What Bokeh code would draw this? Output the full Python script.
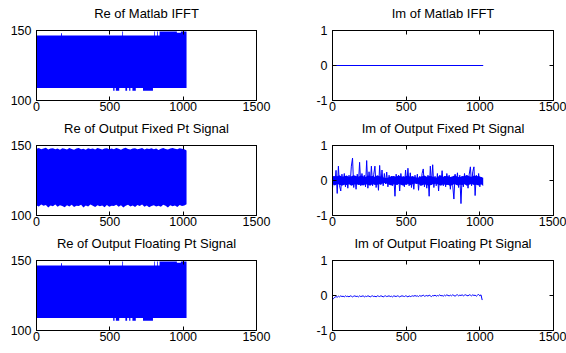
import numpy as np
from bokeh.plotting import figure
from bokeh.layouts import column, row
from bokeh.models import LinearAxis, FixedTicker, Range1d
from bokeh.embed import file_html
from bokeh.resources import INLINE

FONT = "Liberation Sans"
BLUE = "#0000ff"

# ---------------- data ----------------
titles = ["Re of Matlab IFFT", "Im of Matlab IFFT",
          "Re of Output Fixed Pt Signal", "Im of Output Fixed Pt Signal",
          "Re of Output Floating Pt Signal", "Im of Output Floating Pt Signal"]
x_ticks = [0, 500, 1000, 1500]
re_ticks = [100, 150]
im_ticks = [-1, 0, 1]
im_tick_labels = {-1: "-1", 0: "0", 1: "1"}

# Re of Matlab IFFT: envelope of the dense signal (sample index breakpoints, step-after)
re_ifft_idx = [0, 168, 174, 523, 532, 541, 564, 585, 590, 606, 618, 632, 640,
               654, 677, 726, 794, 801, 806, 822, 827, 839, 957, 984, 1023]
re_ifft_hi = [146.5, 148.0, 146.5, 146.5, 146.5, 146.5, 146.5, 149.3, 146.5, 146.5, 146.5, 146.5, 146.5,
              146.5, 146.5, 146.5, 146.5, 149.3, 146.5, 149.3, 146.5, 149.3, 148.4, 149.3, 149.3]
re_ifft_lo = [109.0, 109.0, 109.0, 107.0, 109.0, 107.0, 109.0, 109.0, 109.0, 107.0, 109.0, 107.0, 109.0,
              107.0, 109.0, 107.0, 109.0, 109.0, 109.0, 109.0, 109.0, 109.0, 109.0, 109.0, 109.0]

# Im of Matlab IFFT: flat zero
im_ifft_idx = [0, 1023]
im_ifft = [0.0, 0.0]

# Re of fixed point output: envelope every 16 samples
re_fixed_hi = [147.6, 148.2, 147.3, 147.9, 148.4, 147.1, 147.8, 148.0, 147.4, 147.9,
               146.9, 148.1, 147.6, 147.2, 148.3, 147.5, 147.0, 147.8, 148.2, 147.4,
               147.7, 146.9, 148.0, 147.5, 147.9, 147.2, 148.3, 147.6, 147.1, 147.8,
               148.1, 147.4, 147.9, 147.3, 148.2, 147.6, 147.0, 147.8, 148.4, 147.5,
               147.2, 147.9, 148.0, 147.3, 147.7, 148.2, 147.1, 147.8, 147.5, 148.1,
               147.4, 147.9, 146.8, 147.7, 148.3, 147.5, 147.2, 147.9, 148.2, 147.6,
               147.3, 148.0, 147.7, 147.4, 146.5]
re_fixed_lo = [107.2, 106.4, 107.8, 106.9, 107.5, 105.8, 107.1, 106.6, 107.9, 106.2,
               107.4, 106.8, 105.9, 107.3, 106.5, 107.7, 106.1, 107.0, 106.7, 107.6,
               105.7, 107.2, 106.4, 107.8, 106.9, 106.0, 107.4, 106.6, 107.1, 105.9,
               107.5, 106.3, 107.0, 106.8, 107.7, 106.2, 107.3, 105.8, 106.9, 107.6,
               106.4, 107.1, 106.0, 107.5, 106.7, 107.9, 106.3, 107.2, 105.9, 106.8,
               107.4, 106.5, 107.0, 106.2, 107.6, 106.9, 105.8, 107.3, 106.6, 107.1,
               106.0, 107.5, 106.8, 107.2, 108.0]

# Im of fixed point output: dense core envelope every 16 samples ...
im_fixed_core_hi = [0.10, 0.13, 0.12, 0.15, 0.11, 0.12, 0.14, 0.10, 0.12, 0.15,
                    0.13, 0.11, 0.14, 0.12, 0.10, 0.14, 0.12, 0.13, 0.11, 0.15,
                    0.12, 0.10, 0.08, 0.07, 0.09, 0.12, 0.13, 0.11, 0.14, 0.12,
                    0.10, 0.12, 0.14, 0.11, 0.13, 0.09, 0.08, 0.10, 0.12, 0.14,
                    0.11, 0.13, 0.12, 0.10, 0.08, 0.12, 0.14, 0.11, 0.13, 0.12,
                    0.10, 0.12, 0.15, 0.11, 0.09, 0.12, 0.13, 0.15, 0.12, 0.11,
                    0.14, 0.12, 0.13, 0.10, 0.08]
im_fixed_core_lo = [-0.11, -0.14, -0.10, -0.12, -0.15, -0.12, -0.13, -0.11, -0.15, -0.12,
                    -0.10, -0.13, -0.12, -0.14, -0.11, -0.12, -0.15, -0.10, -0.13, -0.12,
                    -0.11, -0.09, -0.07, -0.09, -0.12, -0.14, -0.11, -0.13, -0.10, -0.12,
                    -0.15, -0.12, -0.09, -0.13, -0.11, -0.08, -0.09, -0.12, -0.14, -0.11,
                    -0.13, -0.15, -0.12, -0.10, -0.09, -0.12, -0.15, -0.11, -0.13, -0.12,
                    -0.16, -0.12, -0.10, -0.14, -0.12, -0.13, -0.11, -0.15, -0.12, -0.10,
                    -0.13, -0.12, -0.14, -0.11, -0.16]
# ... and the signal itself, one value every 8 samples (carries the spikes)
im_fixed = [-0.22, 0.12, -0.10, 0.29, -0.37, 0.41, -0.15, -0.30, 0.18, -0.12,
            0.20, -0.18, 0.10, -0.22, 0.15, -0.08, 0.41, 0.64, -0.20, 0.12,
            -0.25, 0.18, -0.10, 0.52, -0.15, 0.20, -0.12, 0.15, -0.18, 0.57,
            -0.22, 0.25, -0.10, 0.41, -0.15, 0.18, 0.41, -0.20, 0.12, -0.28,
            0.43, -0.12, 0.30, -0.15, 0.20, -0.10, 0.24, -0.18, 0.15, -0.08,
            0.12, -0.15, 0.10, -0.45, 0.18, -0.12, 0.15, -0.30, 0.20, -0.10,
            0.12, -0.18, 0.30, -0.12, 0.35, -0.15, 0.22, -0.20, 0.10, -0.25,
            0.15, -0.10, 0.18, -0.28, 0.12, -0.15, 0.20, 0.33, -0.18, 0.10,
            -0.22, 0.15, -0.45, 0.41, -0.12, 0.45, -0.20, 0.12, -0.15, 0.20,
            -0.30, 0.15, -0.10, 0.28, -0.15, 0.12, -0.18, 0.20, -0.12, 0.15,
            -0.25, 0.10, -0.15, -0.53, 0.18, -0.12, 0.22, -0.20, 0.15, -0.66,
            0.12, -0.18, 0.20, -0.10, 0.15, -0.22, 0.18, 0.39, -0.15, 0.25,
            0.39, -0.43, 0.15, -0.12, 0.20, -0.18, 0.10, -0.05]

# Re of floating point output: reads the same as the Matlab IFFT
re_float_idx = list(re_ifft_idx)
re_float_hi = list(re_ifft_hi)
re_float_lo = list(re_ifft_lo)

# Im of floating point output: one value every 8 samples
im_float = [-0.12, -0.08, -0.05, -0.03, -0.05, -0.02, -0.04, -0.01, -0.03, -0.02,
            -0.04, -0.01, -0.03, -0.02, -0.04, -0.01, -0.02, -0.04, -0.02, -0.01,
            -0.03, -0.02, -0.04, -0.01, -0.03, -0.02, -0.01, -0.04, -0.02, -0.03,
            -0.01, -0.02, -0.04, -0.02, -0.01, -0.03, -0.02, -0.04, -0.01, -0.02,
            -0.03, -0.01, -0.02, -0.04, -0.02, -0.01, -0.03, -0.02, -0.01, -0.03,
            -0.02, -0.04, -0.01, -0.02, -0.03, -0.01, -0.02, -0.04, -0.02, -0.01,
            -0.02, -0.03, -0.01, -0.02, -0.04, -0.01, -0.03, -0.02, -0.01, -0.02,
            0.00, -0.02, -0.01, -0.03, 0.00, -0.02, -0.01, 0.01, -0.02, -0.01,
            0.00, -0.02, 0.01, -0.01, -0.03, 0.00, -0.01, 0.01, -0.02, 0.00,
            -0.01, 0.02, -0.01, 0.00, -0.02, 0.01, -0.01, 0.02, 0.00, -0.01,
            0.01, -0.01, 0.02, 0.00, -0.02, 0.01, 0.02, -0.01, 0.01, 0.00,
            0.02, -0.01, 0.01, 0.02, 0.00, -0.01, 0.02, 0.01, -0.01, 0.02,
            0.00, 0.01, -0.02, 0.01, 0.03, -0.01, 0.02, -0.13]

RE_STEP = 16
IM_STEP = 8
X_RANGE = (0, 1500)


def style_axis(ax, ticks, labels=True, standoff=4, overrides=None):
    ax.ticker = FixedTicker(ticks=ticks)
    ax.axis_line_color = "black"
    ax.axis_line_width = 1
    ax.major_tick_line_color = "black"
    ax.major_tick_in = 4
    ax.major_tick_out = 0
    ax.minor_tick_line_color = None
    ax.major_label_text_font = FONT
    if labels:
        ax.major_label_text_color = "black"
        ax.major_label_text_font_size = "12.5px"
        ax.major_label_standoff = standoff
        if overrides:
            ax.major_label_overrides = overrides
    else:
        ax.major_label_text_color = None
        ax.major_label_text_font_size = "2px"
        ax.major_label_standoff = 0


def make_fig(title, yrange, yticks, width, height, left, right, top, bottom, overrides=None):
    p = figure(width=width, height=height, output_backend="svg", toolbar_location=None,
               x_range=Range1d(*X_RANGE), y_range=Range1d(*yrange),
               min_border_left=left, min_border_right=right,
               min_border_top=top, min_border_bottom=bottom,
               x_axis_location=None, y_axis_location=None)
    p.background_fill_color = "white"
    p.border_fill_color = "white"
    p.outline_line_color = "black"
    p.outline_line_width = 1
    p.grid.visible = False
    b = LinearAxis(); style_axis(b, x_ticks, True, 1); p.add_layout(b, "below")
    l = LinearAxis(); style_axis(l, yticks, True, 5, overrides); p.add_layout(l, "left")
    # top axis: inward ticks only, and the subplot title as its label
    t = LinearAxis(); style_axis(t, x_ticks, False)
    t.axis_label = title
    t.axis_label_text_font = FONT
    t.axis_label_text_font_size = "13px"
    t.axis_label_text_font_style = "normal"
    t.axis_label_text_color = "black"
    t.axis_label_standoff = 10
    p.add_layout(t, "above")
    r = LinearAxis(); style_axis(r, yticks, False); p.add_layout(r, "right")
    return p


def band_step(p, idx, lo, hi):
    try:
        p.varea_step(x=idx, y1=lo, y2=hi, step_mode="after", fill_color=BLUE)
    except AttributeError:
        p.quad(left=idx[:-1], right=idx[1:], bottom=lo[:-1], top=hi[:-1],
               fill_color=BLUE, line_color=BLUE, line_width=0.5)


LW, RW = 283, 283
geo = [(115, 30, 15), (115, 30, 15), (123, 30, 23)]

# row 1
h, tp, bt = geo[0]
p1 = make_fig(titles[0], (100, 150), re_ticks, LW, h, 36, 27, tp, bt)
band_step(p1, re_ifft_idx, re_ifft_lo, re_ifft_hi)
p2 = make_fig(titles[1], (-1, 1), im_ticks, RW, h, 49, 13, tp, bt, im_tick_labels)
p2.line(im_ifft_idx, im_ifft, line_color=BLUE, line_width=1)

# row 2
h, tp, bt = geo[1]
p3 = make_fig(titles[2], (100, 150), re_ticks, LW, h, 36, 27, tp, bt)
xf = np.minimum(np.arange(len(re_fixed_hi)) * RE_STEP, 1023)
p3.varea(x=xf, y1=re_fixed_lo, y2=re_fixed_hi, fill_color=BLUE)
p4 = make_fig(titles[3], (-1, 1), im_ticks, RW, h, 49, 13, tp, bt, im_tick_labels)
xc = np.minimum(np.arange(len(im_fixed_core_hi)) * RE_STEP, 1023)
p4.varea(x=xc, y1=im_fixed_core_lo, y2=im_fixed_core_hi, fill_color=BLUE)
p4.line(np.arange(len(im_fixed)) * IM_STEP, im_fixed, line_color=BLUE, line_width=1)

# row 3
h, tp, bt = geo[2]
p5 = make_fig(titles[4], (100, 150), re_ticks, LW, h, 36, 27, tp, bt)
band_step(p5, re_float_idx, re_float_lo, re_float_hi)
p6 = make_fig(titles[5], (-1, 1), im_ticks, RW, h, 49, 13, tp, bt, im_tick_labels)
p6.line(np.arange(len(im_float)) * IM_STEP, im_float, line_color=BLUE, line_width=1)

layout = column(row(p1, p2), row(p3, p4), row(p5, p6))
open("out.html", "w").write(file_html(layout, INLINE))
